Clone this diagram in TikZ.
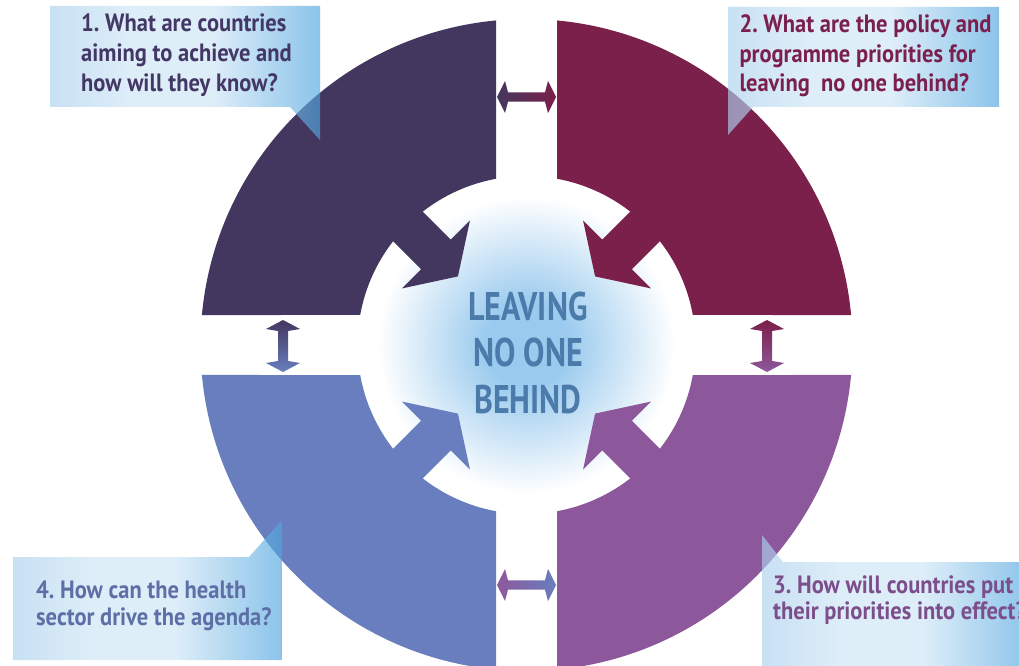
\documentclass[tikz,border=0pt]{standalone}
\usepackage{fontspec}
\newfontfamily\cond[FakeStretch=0.9]{PT Sans}
\newfontfamily\condc[FakeStretch=0.8]{PT Sans}
\definecolor{qA}{HTML}{44375F}
\definecolor{qB}{HTML}{7B1F4B}
\definecolor{qC}{HTML}{8D589B}
\definecolor{qD}{HTML}{687EBE}
\definecolor{ctext}{HTML}{4A7BAA}
\definecolor{glowc}{HTML}{9ACAEE}
\definecolor{cbL}{RGB}{171,209,238}
\definecolor{cbM}{RGB}{205,229,246}
\definecolor{cbR}{RGB}{78,165,223}
\definecolor{tA}{HTML}{433865}
\definecolor{tB}{HTML}{7A1F4E}
\definecolor{tC}{HTML}{7C4E8C}
\definecolor{tD}{HTML}{5D6FA6}
\pgfdeclareradialshading{glow}{\pgfpoint{0bp}{0bp}}{color(0bp)=(glowc); color(6bp)=(glowc); color(22bp)=(white); color(50bp)=(white)}
\pgfdeclarehorizontalshading{callout}{100bp}{color(0bp)=(cbL); color(25bp)=(cbL); color(40bp)=(cbM); color(55bp)=(cbM); color(75bp)=(cbR); color(100bp)=(cbR)}
\begin{document}
\begin{tikzpicture}[x=1pt,y=1pt,
  qtext/.style={inner sep=0pt, anchor=base west, font=\cond\bfseries\fontsize{25}{29}\selectfont},
  ctr/.style={inner sep=0pt, anchor=base, text=ctext, font=\condc\bfseries\fontsize{40}{46}\selectfont},
  callout/.style={shading=callout, fill opacity=0.65}]
\useasboundingbox (0,0) rectangle (1019,665);
\clip (0,0) rectangle (1019,665);
\fill[white] (0,0) rectangle (1019,665);
\begin{scope}[shift={(526.5,320)}]
  \shade[shading=glow] (0,0) circle[radius=169];
  % quadrant 1 (top-left)
  \fill[qA] (95.37:326) arc[start angle=95.37, end angle=174.72, radius=326] -- (169.77:169) arc[start angle=169.77, end angle=100.40, radius=169] -- cycle;
  \fill[qA, rotate=135] (97,0) -- (128,48) -- (128,21) -- (190,21) -- (190,-21) -- (128,-21) -- (128,-48) -- cycle;
  % quadrant 2 (top-right)
  \fill[qB] (84.63:326) arc[start angle=84.63, end angle=5.28, radius=326] -- (10.23:169) arc[start angle=10.23, end angle=79.60, radius=169] -- cycle;
  \fill[qB, rotate=45] (97,0) -- (128,48) -- (128,21) -- (190,21) -- (190,-21) -- (128,-21) -- (128,-48) -- cycle;
  % quadrant 4 (bottom-left)
  \fill[qD] (185.28:326) arc[start angle=185.28, end angle=264.63, radius=326] -- (259.60:169) arc[start angle=259.60, end angle=190.23, radius=169] -- cycle;
  \fill[qD, rotate=225] (97,0) -- (128,48) -- (128,21) -- (190,21) -- (190,-21) -- (128,-21) -- (128,-48) -- cycle;
  % quadrant 3 (bottom-right)
  \fill[qC] (275.37:326) arc[start angle=275.37, end angle=354.72, radius=326] -- (349.77:169) arc[start angle=349.77, end angle=280.40, radius=169] -- cycle;
  \fill[qC, rotate=315] (97,0) -- (128,48) -- (128,21) -- (190,21) -- (190,-21) -- (128,-21) -- (128,-48) -- cycle;
\end{scope}
% double arrows in the gaps
\begin{scope}[shift={(526.5,568)}]
  \shade[left color=qA, right color=qB] (-29.5,0) -- (-21.5,16) -- (-18.5,4.7) -- (18.5,4.7) -- (21.5,16) -- (29.5,0) -- (21.5,-16) -- (18.5,-4.7) -- (-18.5,-4.7) -- (-21.5,-16) -- cycle;
\end{scope}
\begin{scope}[shift={(526.5,80)}]
  \shade[left color=qC, right color=qD] (-29.5,0) -- (-21.5,16) -- (-18.5,4.7) -- (18.5,4.7) -- (21.5,16) -- (29.5,0) -- (21.5,-16) -- (18.5,-4.7) -- (-18.5,-4.7) -- (-21.5,-16) -- cycle;
\end{scope}
\begin{scope}[shift={(283,319)}]
  \shade[top color=qA, bottom color=qD] (0,26) -- (17,17) -- (5,15) -- (5,-15) -- (17,-17) -- (0,-26) -- (-17,-17) -- (-5,-15) -- (-5,15) -- (-17,17) -- cycle;
\end{scope}
\begin{scope}[shift={(767,319)}]
  \shade[top color=qB, bottom color=qC] (0,26) -- (17,17) -- (5,15) -- (5,-15) -- (17,-17) -- (0,-26) -- (-17,-17) -- (-5,-15) -- (-5,15) -- (-17,17) -- cycle;
\end{scope}
% callout boxes
\shade[callout] (50,659) -- (320,659) -- (320,525) -- (290,558) -- (50,558) -- cycle;
\shade[callout] (728,658) -- (999,658) -- (999,558) -- (753,558) -- (728,530) -- cycle;
\shade[callout] (762,130) -- (783,103) -- (1030,103) -- (1030,-5) -- (762,-5) -- cycle;
\shade[callout] (13,108) -- (249,108) -- (282,145) -- (282,5) -- (13,5) -- cycle;
% callout texts
\node[qtext, text=tA] (t1a) at (81,633.5) {1.\ What are countries};
\node[qtext, text=tA] (t1b) at (81,603.5) {aiming to achieve and};
\node[qtext, text=tA] (t1c) at (81,573) {how will they know?};
\node[qtext, text=tB] (t2a) at (739.3,632) {2.\ What are the policy and};
\node[qtext, text=tB] (t2b) at (739.3,602) {programme priorities for};
\node[qtext, text=tB] (t2c) at (739.3,573) {leaving\ \ no one behind?};
\node[qtext, text=tC] (t3a) at (773,72) {3.\ How will countries put};
\node[qtext, text=tC] (t3b) at (773,46) {their priorities into effect?};
\node[qtext, text=tD] (t4a) at (36,67) {4.\ How can the health};
\node[qtext, text=tD] (t4b) at (36,40) {sector drive the agenda?};
% centre text
\node[ctr] (c1) at (528,345) {LEAVING};
\node[ctr] (c2) at (528,299) {NO ONE};
\node[ctr] (c3) at (528,252) {BEHIND};
\end{tikzpicture}
\end{document}
